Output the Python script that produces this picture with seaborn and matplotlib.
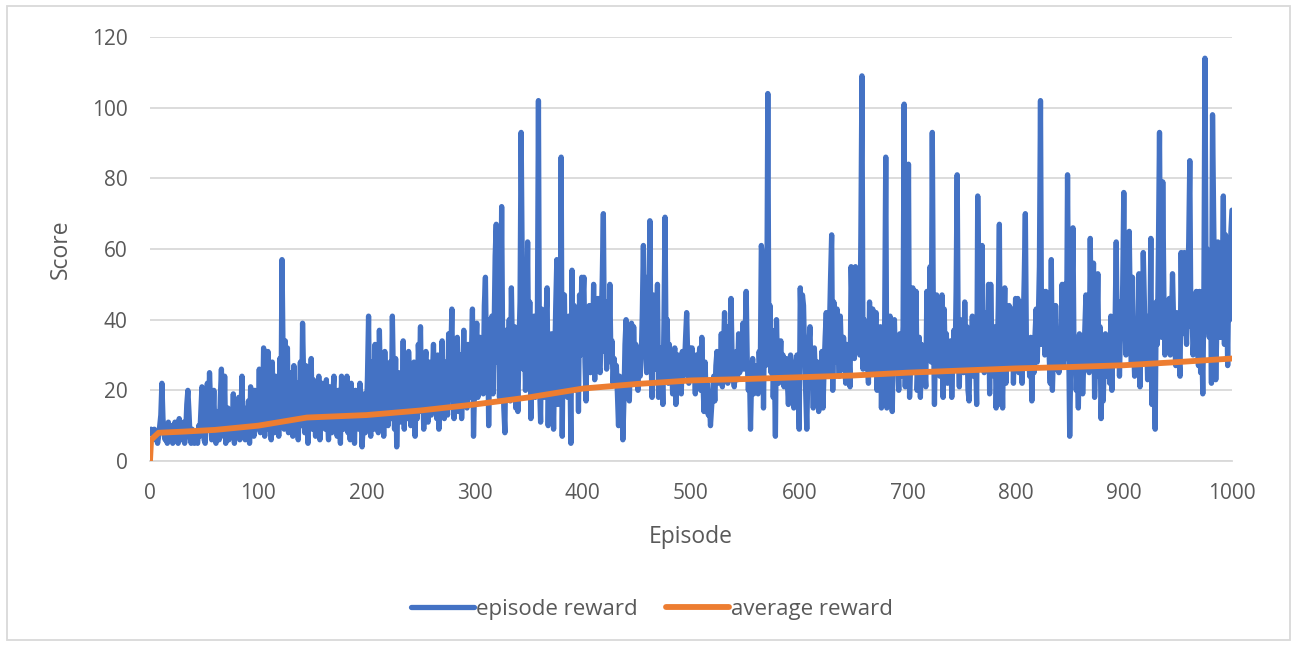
import numpy as np
import pandas as pd
import matplotlib
matplotlib.use("Agg")
import matplotlib.pyplot as plt
import seaborn as sns
from matplotlib.patches import Rectangle

# Score of each training episode (episodes 1..1000)
episode_reward = [
    9, 8, 7, 9, 6, 8, 5, 7, 10, 13, 22, 12, 8, 6, 9, 5, 11, 7, 6, 10,
    5, 8, 11, 6, 9, 5, 12, 7, 6, 9, 11, 5, 8, 16, 20, 14, 7, 5, 9, 6,
    5, 8, 6, 5, 10, 7, 14, 21, 18, 6, 5, 12, 22, 9, 25, 16, 6, 11, 20, 7,
    5, 14, 9, 6, 18, 26, 12, 7, 24, 5, 9, 15, 6, 11, 13, 8, 19, 5, 10, 14,
    7, 18, 6, 12, 24, 9, 15, 6, 13, 8, 17, 5, 21, 10, 14, 7, 20, 9, 16, 11,
    26, 8, 19, 12, 32, 7, 22, 14, 31, 9, 18, 6, 28, 13, 8, 24, 10, 17, 7, 29,
    12, 57, 30, 9, 34, 18, 32, 8, 25, 11, 20, 7, 27, 14, 9, 22, 6, 16, 28, 10,
    39, 24, 8, 27, 12, 5, 19, 13, 29, 9, 23, 16, 7, 20, 11, 24, 6, 14, 22, 10,
    17, 9, 23, 12, 6, 21, 15, 8, 19, 24, 10, 14, 7, 20, 12, 5, 24, 16, 9, 23,
    13, 24, 8, 18, 6, 22, 11, 15, 5, 20, 12, 17, 9, 22, 14, 4, 10, 19, 8, 13,
    24, 41, 12, 7, 28, 18, 9, 33, 15, 26, 8, 37, 20, 11, 30, 7, 31, 16, 24, 10,
    19, 28, 12, 41, 22, 9, 29, 4, 17, 25, 11, 20, 14, 34, 9, 27, 18, 12, 31, 22,
    10, 24, 15, 28, 7, 19, 12, 33, 25, 38, 14, 21, 9, 26, 31, 17, 11, 28, 20, 13,
    24, 33, 18, 27, 12, 30, 9, 22, 26, 34, 15, 12, 28, 19, 13, 36, 24, 30, 43, 17,
    12, 27, 21, 35, 14, 25, 30, 12, 22, 37, 19, 28, 15, 33, 24, 18, 29, 43, 7, 22,
    30, 39, 18, 26, 35, 21, 28, 19, 44, 52, 27, 40, 10, 33, 24, 41, 19, 36, 58, 67,
    28, 42, 18, 35, 72, 30, 15, 8, 37, 26, 21, 40, 17, 49, 31, 23, 38, 15, 27, 14,
    33, 45, 93, 56, 26, 39, 20, 34, 62, 27, 45, 12, 36, 24, 41, 18, 29, 38, 102, 22,
    11, 43, 27, 33, 18, 40, 49, 10, 30, 21, 36, 25, 9, 28, 44, 57, 16, 38, 20, 86,
    7, 40, 47, 23, 35, 18, 41, 29, 5, 54, 26, 44, 31, 20, 38, 14, 47, 30, 52, 45,
    52, 28, 17, 38, 30, 44, 25, 36, 29, 50, 23, 41, 33, 46, 27, 25, 38, 52, 70, 31,
    45, 26, 39, 30, 50, 28, 34, 22, 29, 24, 27, 19, 10, 24, 15, 21, 6, 17, 33, 40,
    26, 36, 17, 30, 39, 22, 38, 27, 33, 25, 20, 31, 24, 29, 42, 61, 35, 52, 25, 44,
    37, 68, 30, 18, 47, 40, 26, 35, 50, 18, 32, 24, 28, 16, 39, 69, 29, 40, 22, 33,
    25, 31, 19, 28, 32, 16, 26, 30, 22, 28, 19, 31, 24, 27, 35, 42, 29, 22, 32, 26,
    32, 24, 27, 19, 30, 22, 26, 32, 20, 35, 23, 14, 28, 18, 22, 13, 17, 10, 15, 20,
    24, 17, 27, 31, 22, 29, 24, 36, 21, 30, 42, 26, 38, 22, 33, 28, 46, 29, 24, 21,
    27, 31, 23, 36, 25, 33, 29, 39, 26, 35, 48, 28, 20, 26, 9, 24, 29, 19, 27, 22,
    26, 19, 31, 24, 61, 58, 15, 42, 27, 39, 104, 30, 44, 25, 37, 18, 29, 7, 40, 26,
    22, 28, 34, 24, 30, 21, 26, 29, 23, 16, 25, 30, 28, 20, 15, 24, 18, 30, 22, 9,
    49, 35, 47, 44, 30, 20, 9, 25, 33, 38, 21, 29, 15, 32, 24, 17, 28, 14, 23, 16,
    31, 15, 26, 35, 42, 30, 24, 38, 52, 64, 20, 45, 36, 28, 43, 33, 24, 41, 30, 26,
    35, 28, 22, 33, 25, 30, 21, 55, 42, 36, 29, 55, 38, 33, 47, 30, 64, 109, 26, 40,
    33, 38, 29, 22, 45, 30, 25, 43, 31, 36, 42, 20, 34, 27, 38, 15, 31, 22, 40, 86,
    15, 28, 33, 41, 23, 14, 32, 40, 26, 33, 29, 20, 36, 24, 31, 38, 101, 21, 45, 30,
    84, 18, 29, 40, 49, 26, 37, 48, 20, 28, 35, 18, 33, 24, 31, 26, 21, 48, 30, 39,
    55, 28, 93, 40, 16, 35, 47, 29, 38, 24, 33, 47, 18, 43, 27, 36, 22, 30, 25, 34,
    18, 29, 37, 26, 48, 81, 33, 21, 40, 28, 35, 25, 45, 30, 38, 20, 17, 33, 27, 41,
    24, 36, 30, 16, 75, 48, 26, 38, 61, 29, 25, 35, 42, 27, 50, 19, 50, 33, 30, 24,
    38, 15, 28, 44, 67, 16, 30, 15, 36, 49, 22, 32, 27, 44, 35, 28, 43, 22, 37, 46,
    30, 46, 25, 45, 28, 22, 38, 52, 70, 33, 27, 31, 24, 35, 17, 30, 25, 36, 43, 28,
    40, 55, 102, 33, 42, 48, 30, 48, 35, 40, 30, 22, 57, 20, 31, 26, 44, 28, 34, 25,
    30, 34, 50, 27, 50, 38, 29, 81, 36, 7, 28, 44, 66, 30, 35, 20, 27, 15, 36, 22,
    33, 19, 28, 38, 47, 30, 40, 25, 63, 33, 42, 56, 18, 30, 36, 53, 24, 38, 12, 25,
    17, 30, 36, 24, 28, 33, 22, 41, 20, 35, 27, 40, 62, 31, 45, 24, 38, 35, 50, 76,
    40, 30, 48, 35, 65, 42, 28, 52, 33, 24, 36, 25, 30, 53, 21, 40, 32, 59, 45, 28,
    37, 23, 41, 30, 63, 16, 38, 26, 9, 45, 33, 60, 93, 42, 35, 79, 48, 30, 43, 38,
    32, 46, 30, 37, 53, 40, 34, 27, 42, 35, 29, 24, 59, 36, 44, 59, 40, 33, 47, 62,
    85, 38, 44, 30, 36, 41, 48, 33, 27, 48, 25, 35, 19, 46, 114, 52, 60, 40, 35, 57,
    22, 98, 70, 45, 23, 38, 62, 35, 41, 35, 50, 75, 33, 64, 48, 27, 52, 40, 65, 71,
]
episodes = list(range(1, len(episode_reward) + 1))

# Running average reward, recorded at checkpoint episodes
avg_episodes = [0, 1, 8, 30, 60, 100, 145, 200, 250, 300, 350, 400, 450,
                500, 550, 600, 650, 700, 750, 800, 850, 900, 950, 1000]
avg_reward = [0, 6, 8, 8.3, 8.8, 10, 12.3, 13, 14.3, 16, 18, 20.5, 21.8,
              22.8, 23.2, 23.7, 24.2, 25, 25.6, 26.2, 26.6, 27.1, 28, 29]

x_ticks = list(range(0, 1001, 100))
y_ticks = list(range(0, 121, 20))

BLUE = "#4472C4"
ORANGE = "#ED7D31"
GRID = "#D9D9D9"
TEXT = "#595959"

sns.set_theme(style="white")
plt.rcParams["font.family"] = ["Open Sans", "DejaVu Sans"]

fig = plt.figure(figsize=(12.97, 6.46), dpi=100)
ax = fig.add_axes([150 / 1297, 1 - 461 / 646, (1232 - 150) / 1297, (461 - 37) / 646])

ep_df = pd.DataFrame({"Episode": episodes, "Score": episode_reward})
avg_df = pd.DataFrame({"Episode": avg_episodes, "Score": avg_reward})

sns.lineplot(data=ep_df, x="Episode", y="Score", ax=ax, color=BLUE,
             linewidth=3.8, label="episode reward", zorder=3,
             solid_joinstyle="round", solid_capstyle="round")
sns.lineplot(data=avg_df, x="Episode", y="Score", ax=ax, color=ORANGE,
             linewidth=4.2, label="average reward", zorder=4,
             solid_joinstyle="round", solid_capstyle="round")

ax.set_xlim(0, 1000)
ax.set_ylim(0, 120)
ax.set_xticks(x_ticks)
ax.set_yticks(y_ticks)
ax.yaxis.grid(True, color=GRID, linewidth=1.3, zorder=0)
ax.xaxis.grid(False)
ax.set_axisbelow(True)
for side in ["top", "right", "left"]:
    ax.spines[side].set_visible(False)
ax.spines["bottom"].set_color(GRID)
ax.spines["bottom"].set_linewidth(1.3)
ax.tick_params(axis="both", length=0, labelsize=15, labelcolor=TEXT)
ax.tick_params(axis="y", pad=16)
ax.tick_params(axis="x", pad=16)
ax.set_xlabel("Episode", fontsize=16.5, color=TEXT, labelpad=15)
ax.set_ylabel("Score", fontsize=16.5, color=TEXT, labelpad=14)

leg = ax.legend(loc="center", bbox_to_anchor=(652 / 1297, 1 - 609 / 646),
                bbox_transform=fig.transFigure, ncol=2, frameon=False,
                fontsize=16, handlelength=2.8, handletextpad=0.1,
                columnspacing=1.3)
for t in leg.get_texts():
    t.set_color(TEXT)

# Light frame around the whole chart
fig.patches.append(Rectangle((7 / 1297, 6 / 646), 1283 / 1297, 634 / 646,
                             transform=fig.transFigure, fill=False,
                             edgecolor="#D9D9D9", linewidth=1.3))

fig.savefig("out.png", dpi=100, facecolor="white")
